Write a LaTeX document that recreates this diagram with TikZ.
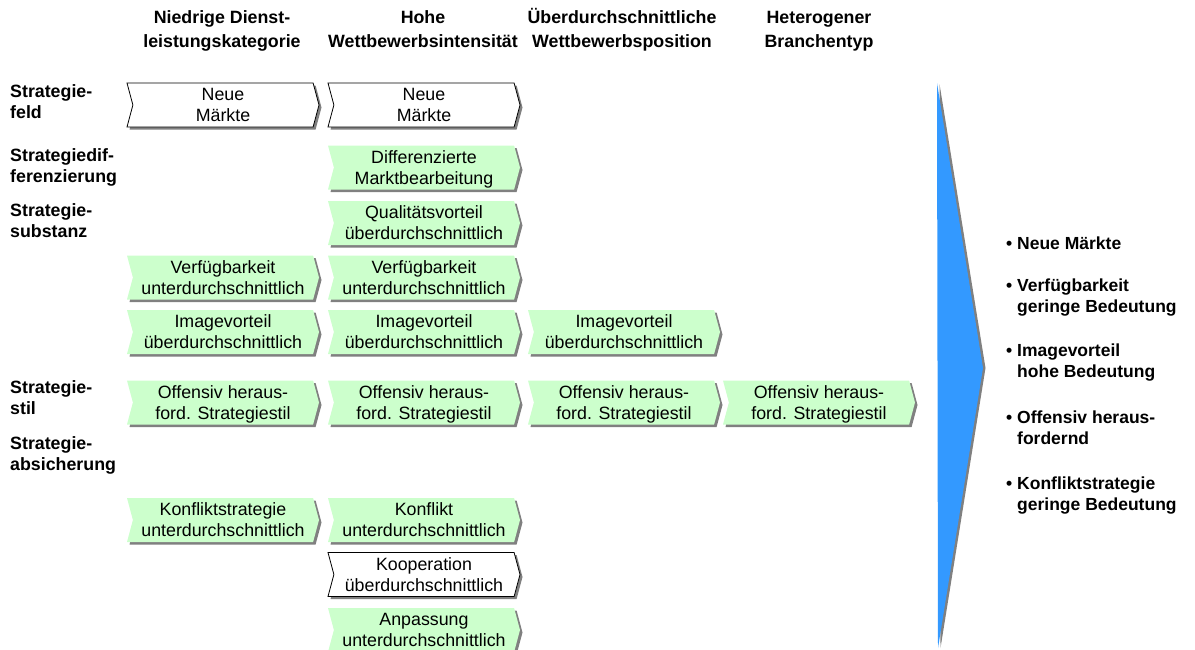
\documentclass[tikz,border=0pt]{standalone}
\usepackage{fontspec}
\setmainfont{Liberation Sans}
\usetikzlibrary{shapes.symbols,shadows}
\definecolor{cellgreen}{HTML}{CCFFCC}
\definecolor{arrowblue}{HTML}{3399FF}
\definecolor{shadowgray}{HTML}{808080}
\newcommand{\vst}{\rule[-4.1pt]{0pt}{21pt}}
\newcommand{\twol}[2]{\vst #1\\\vst #2}
\begin{document}
\begin{tikzpicture}[x=1pt,y=-1pt,
  txt/.style={font=\fontsize{17.8}{21}\selectfont, align=center},
  hdr/.style={font=\bfseries\fontsize{17.8}{24}\selectfont, align=center, inner sep=0pt},
  rowlab/.style={font=\bfseries\fontsize{17.8}{21}\selectfont, align=left, anchor=west, inner sep=0pt},
  bul/.style={font=\bfseries\fontsize{17.5}{21}\selectfont, align=left, anchor=west, inner sep=0pt},
  chev/.style={signal, signal from=west, signal to=east, signal pointer angle=150,
    minimum width=192pt, minimum height=44pt, inner sep=0pt, txt,
    drop shadow={shadow xshift=2.5pt, shadow yshift=-2.5pt, fill=shadowgray, opacity=1}},
  wchev/.style={chev, draw=black, line width=0.8pt, fill=white},
  gchev/.style={chev, fill=cellgreen},
]
\useasboundingbox (0,0) rectangle (1195,649);

% column headers
\node[hdr] (h1) at (222,29) {\twol{Niedrige Dienst-}{leistungskategorie}};
\node[hdr] (h2) at (423,29) {\twol{Hohe}{Wettbewerbsintensität}};
\node[hdr] (h3) at (622,29) {\twol{Überdurchschnittliche}{Wettbewerbsposition}};
\node[hdr] (h4) at (819,29) {\twol{Heterogener}{Branchentyp}};

% row labels
\node[rowlab] (l1) at (10,102) {\twol{Strategie-}{feld}};
\node[rowlab] (l2) at (10,166) {\twol{Strategiedif-}{ferenzierung}};
\node[rowlab] (l3) at (10,221) {\twol{Strategie-}{substanz}};
\node[rowlab] (l4) at (10,398) {\twol{Strategie-}{stil}};
\node[rowlab] (l5) at (10,454) {\twol{Strategie-}{absicherung}};

% row 1
\node[wchev] (a1) at (223,105) {\twol{Neue}{Märkte}};
\node[wchev] (b1) at (424,105) {\twol{Neue}{Märkte}};
% row 2
\node[gchev] (b2) at (424,167.5) {\twol{Differenzierte}{Marktbearbeitung}};
% row 3
\node[gchev] (b3) at (424,223) {\twol{Qualitätsvorteil}{überdurchschnittlich}};
% row 4
\node[gchev] (a4) at (223,277.5) {\twol{Verfügbarkeit}{unterdurchschnittlich}};
\node[gchev] (b4) at (424,277.5) {\twol{Verfügbarkeit}{unterdurchschnittlich}};
% row 5
\node[gchev] (a5) at (223,332) {\twol{Imagevorteil}{überdurchschnittlich}};
\node[gchev] (b5) at (424,332) {\twol{Imagevorteil}{überdurchschnittlich}};
\node[gchev] (c5) at (624,332) {\twol{Imagevorteil}{überdurchschnittlich}};
% row 6
\node[gchev] (a6) at (223,402.5) {\twol{Offensiv heraus-}{ford. Strategiestil}};
\node[gchev] (b6) at (424,402.5) {\twol{Offensiv heraus-}{ford. Strategiestil}};
\node[gchev] (c6) at (624,402.5) {\twol{Offensiv heraus-}{ford. Strategiestil}};
\node[gchev] (d6) at (819,402.5) {\twol{Offensiv heraus-}{ford. Strategiestil}};
% row 7
\node[gchev] (a7) at (223,520) {\twol{Konfliktstrategie}{unterdurchschnittlich}};
\node[gchev] (b7) at (424,520) {\twol{Konflikt}{unterdurchschnittlich}};
% row 8
\node[wchev] (b8) at (424,574.5) {\twol{Kooperation}{überdurchschnittlich}};
% row 9
\node[gchev] (b9) at (424,630) {\twol{Anpassung}{unterdurchschnittlich}};

% big arrow
\fill[shadowgray] (939.5,84) -- (985.5,368) -- (940.5,648) -- cycle;
\fill[arrowblue] (937,83) -- (983,368) -- (938,648) -- cycle;

% summary bullets
\node[bul] (t1) at (1006,243) {\vst• Neue Märkte};
\node[bul] (t2) at (1006,295.5) {\twol{• Verfügbarkeit}{\hphantom{• }geringe Bedeutung}};
\node[bul] (t3) at (1006,361) {\twol{• Imagevorteil}{\hphantom{• }hohe Bedeutung}};
\node[bul] (t4) at (1006,427.5) {\twol{• Offensiv heraus-}{\hphantom{• }fordernd}};
\node[bul] (t5) at (1006,493.5) {\twol{• Konfliktstrategie}{\hphantom{• }geringe Bedeutung}};
\end{tikzpicture}
\end{document}
